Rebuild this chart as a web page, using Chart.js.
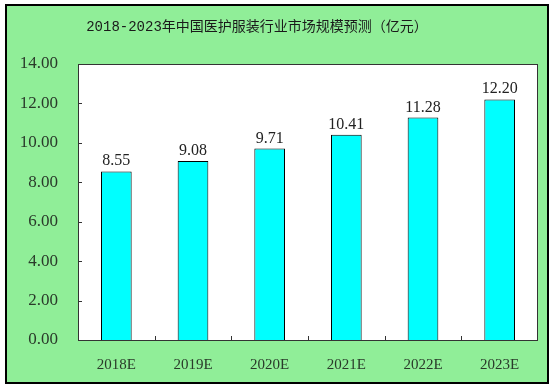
<!DOCTYPE html>
<html>
<head>
<meta charset="utf-8">
<script src="https://cdn.jsdelivr.net/npm/chart.js@4/dist/chart.umd.min.js"></script>
<style>
  html, body { margin: 0; padding: 0; background: #fff; }
  #wrap { width: 553px; height: 390px; }
</style>
</head>
<body>
<div id="wrap"><canvas id="chart" width="553" height="390"></canvas></div>
<script>
const years = ['2018E', '2019E', '2020E', '2021E', '2022E', '2023E'];
const marketSize = [8.55, 9.08, 9.71, 10.41, 11.28, 12.20];
const titleText = '2018-2023年中国医护服装行业市场规模预测（亿元）';

const numFont = "'Liberation Serif', 'Noto Sans CJK SC', serif";
const titleFont = "'Liberation Mono', 'Noto Sans CJK SC', monospace";

// background, frame, title, plot border, tick marks, value labels
const decor = {
    id: 'decor',
    beforeDraw(chart) {
        const ctx = chart.ctx;
        ctx.save();
        ctx.fillStyle = '#90EE98';
        ctx.fillRect(0, 0, chart.width, chart.height);
        ctx.fillStyle = '#ffffff';
        ctx.fillRect(0, 0, chart.width, 5);
        ctx.fillRect(0, 0, 5, chart.height);
        ctx.fillRect(549, 0, 4, chart.height);
        ctx.fillRect(0, 384, chart.width, 6);
        ctx.strokeStyle = '#000';
        ctx.lineWidth = 2;
        ctx.strokeRect(6, 5, 542, 378);

        const a = chart.chartArea;
        ctx.fillStyle = '#ffffff';
        ctx.fillRect(a.left, a.top, a.right - a.left, a.bottom - a.top);

        ctx.fillStyle = '#1a1a1a';
        ctx.font = "14px " + titleFont;
        ctx.textAlign = 'center';
        ctx.textBaseline = 'middle';
        ctx.fillText(titleText, 257, 27);
        ctx.restore();
    },
    afterDraw(chart) {
        const ctx = chart.ctx;
        const a = chart.chartArea;
        const x = chart.scales.x;
        const y = chart.scales.y;
        ctx.save();
        ctx.strokeStyle = '#333';
        ctx.lineWidth = 1;
        ctx.strokeRect(a.left + 0.5, a.top + 0.5, a.right - a.left - 1, a.bottom - a.top);

        ctx.beginPath();
        y.ticks.forEach(t => {
            const py = Math.round(y.getPixelForValue(t.value)) + 0.5;
            ctx.moveTo(a.left, py);
            ctx.lineTo(a.left + 4, py);
        });
        for (let i = 1; i < years.length; i++) {
            const px = Math.round((x.getPixelForValue(i - 1) + x.getPixelForValue(i)) / 2) + 0.5;
            ctx.moveTo(px, a.bottom);
            ctx.lineTo(px, a.bottom - 4);
        }
        ctx.stroke();

        const meta = chart.getDatasetMeta(0);
        ctx.fillStyle = '#222';
        ctx.font = "16px " + numFont;
        ctx.textAlign = 'center';
        ctx.textBaseline = 'alphabetic';
        meta.data.forEach((bar, i) => {
            ctx.fillText(marketSize[i].toFixed(2), bar.x, bar.y - 6);
        });
        ctx.restore();
    }
};

new Chart(document.getElementById('chart'), {
    type: 'bar',
    data: {
        labels: years,
        datasets: [{
            data: marketSize,
            backgroundColor: '#00FFFF',
            borderColor: '#000',
            borderWidth: 1,
            borderSkipped: 'bottom',
            barPercentage: 0.8,
            categoryPercentage: 0.5
        }]
    },
    options: {
        responsive: false,
        animation: false,
        devicePixelRatio: 1,
        layout: { padding: { left: 0, top: 64, right: 15, bottom: 0 } },
        plugins: {
            legend: { display: false },
            title: { display: false },
            tooltip: { enabled: false }
        },
        scales: {
            x: {
                grid: { display: false },
                border: { display: false },
                ticks: {
                    color: '#2a3a2a',
                    font: { family: numFont, size: 15 },
                    padding: 8,
                    maxRotation: 0
                },
                afterFit(scale) { scale.height = 50; }
            },
            y: {
                min: 0,
                max: 14,
                grid: { display: false },
                border: { display: false },
                ticks: {
                    stepSize: 2,
                    color: '#2a3a2a',
                    font: { family: numFont, size: 17 },
                    padding: 12,
                    callback: v => v.toFixed(2)
                },
                afterFit(scale) { scale.width = 78; }
            }
        }
    },
    plugins: [decor]
});
</script>
</body>
</html>
